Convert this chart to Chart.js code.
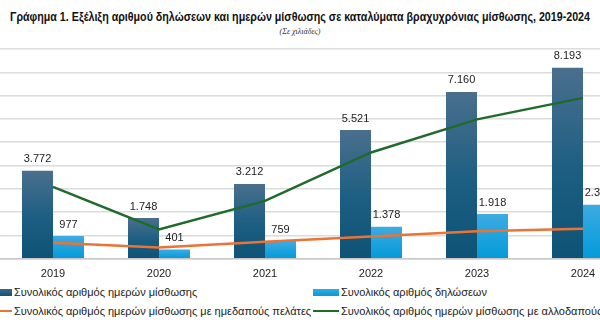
<!DOCTYPE html>
<html>
<head>
<meta charset="utf-8">
<script src="https://cdn.jsdelivr.net/npm/chart.js@4/dist/chart.umd.min.js"></script>
<style>
  html, body { margin: 0; padding: 0; background: #fff; }
  body { width: 600px; height: 332px; overflow: hidden; position: relative; font-family: "Liberation Sans", Arial, sans-serif; color: #222; }
  .title { position: absolute; top: 10px; left: 300px; white-space: nowrap; font-weight: bold; font-size: 12.5px; color: #111; transform-origin: center; transform: translateX(-50%); }
  .subtitle { position: absolute; top: 27px; left: 0; width: 600px; text-align: center; font-family: "Liberation Serif", serif; font-style: italic; font-size: 8px; color: #333; }
  .chart-box { position: absolute; top: 40px; left: 0; width: 636px; height: 242px; }
  .legend { position: absolute; top: 286px; left: 0; width: 700px; font-size: 11px; }
  .legend-item { position: absolute; white-space: nowrap; display: flex; align-items: center; }
  .legend-item .sw { display: inline-block; width: 26px; margin-right: 2px; }
</style>
</head>
<body>
<div class="title" id="title">Γράφημα 1. Εξέλιξη αριθμού δηλώσεων και ημερών μίσθωσης σε καταλύματα βραχυχρόνιας μίσθωσης, 2019-2024</div>
<div class="subtitle">(Σε χιλιάδες)</div>
<div class="chart-box"><canvas id="chart"></canvas></div>
<div class="legend" id="legend"></div>
<script>
// values in thousands
const years = ['2019', '2020', '2021', '2022', '2023', '2024'];
const totalDays = [3772, 1748, 3212, 5521, 7160, 8193];
const totalDeclarations = [977, 401, 759, 1378, 1918, 2317];
const domesticDays = [690, 490, 730, 960, 1180, 1290];
const foreignDays = [3082, 1258, 2482, 4561, 5980, 6903];
const yTicks = [0, 1000, 2000, 3000, 4000, 5000, 6000, 7000, 8000, 9000];

const seriesNames = [
    'Συνολικός αριθμός ημερών μίσθωσης',
    'Συνολικός αριθμός δηλώσεων',
    'Συνολικός αριθμός ημερών μίσθωσης με ημεδαπούς πελάτες',
    'Συνολικός αριθμός ημερών μίσθωσης με αλλοδαπούς πελάτες'
];

// squeeze the title to the narrow width of the original
const titleEl = document.getElementById('title');
const tw = titleEl.getBoundingClientRect().width;
if (tw > 580) titleEl.style.transform = `translateX(-50%) scaleX(${580 / tw})`;

function fmt(v) {
    return String(v).replace(/\B(?=(\d{3})+(?!\d))/g, '.');
}

// gradient per bar, lighter at the top
function barFill(top, bottom, fallback) {
    return (c) => {
        const chart = c.chart;
        if (!chart.chartArea || c.raw === undefined) return fallback;
        const y = chart.scales.y;
        const g = chart.ctx.createLinearGradient(0, y.getPixelForValue(c.raw), 0, y.getPixelForValue(0));
        g.addColorStop(0, top);
        g.addColorStop(0.55, fallback);
        g.addColorStop(1, bottom);
        return g;
    };
}

const valueLabels = {
    id: 'valueLabels',
    afterDatasetsDraw(chart) {
        const ctx = chart.ctx;
        ctx.save();
        ctx.font = '11px "Liberation Sans", Arial, sans-serif';
        ctx.fillStyle = '#222';
        ctx.textAlign = 'center';
        ctx.textBaseline = 'bottom';
        [0, 1].forEach(i => {
            const meta = chart.getDatasetMeta(i);
            meta.data.forEach((bar, j) => {
                ctx.fillText(fmt(chart.data.datasets[i].data[j]), bar.x, bar.y - 6);
            });
        });
        ctx.restore();
    }
};

const colors = ['#165a7f', '#0e9bd8', '#ea7433', '#1f6b2b'];

new Chart(document.getElementById('chart'), {
    data: {
        labels: years,
        datasets: [{
            type: 'bar',
            label: seriesNames[0],
            data: totalDays,
            backgroundColor: barFill('#4a6f8d', '#0e5275', '#1b5e82'),
            order: 2
        }, {
            type: 'bar',
            label: seriesNames[1],
            data: totalDeclarations,
            backgroundColor: barFill('#3fabe2', '#049ad8', '#1ba2dd'),
            order: 2
        }, {
            type: 'line',
            label: seriesNames[2],
            data: domesticDays,
            borderColor: colors[2],
            borderWidth: 2.5,
            pointRadius: 0,
            tension: 0,
            order: 1
        }, {
            type: 'line',
            label: seriesNames[3],
            data: foreignDays,
            borderColor: colors[3],
            borderWidth: 2.5,
            pointRadius: 0,
            tension: 0,
            order: 0
        }]
    },
    options: {
        responsive: true,
        maintainAspectRatio: false,
        animation: false,
        layout: { padding: { top: 9, left: 0, right: 0, bottom: 0 } },
        datasets: {
            bar: { categoryPercentage: 0.585, barPercentage: 1 }
        },
        plugins: {
            legend: { display: false },
            tooltip: { enabled: false }
        },
        scales: {
            x: {
                grid: { display: false },
                border: { display: true, color: '#c8c8c8', width: 1.5 },
                ticks: { color: '#222', font: { size: 11, family: '"Liberation Sans", Arial' }, padding: 1 }
            },
            y: {
                min: 0,
                max: 9000,
                afterBuildTicks: (axis) => { axis.ticks = yTicks.map(v => ({ value: v })); },
                ticks: { display: false },
                grid: { color: '#dcdcdc', lineWidth: 1.5, drawTicks: false },
                border: { display: false }
            }
        }
    },
    plugins: [valueLabels]
});

// legend in two columns like the original
const legend = document.getElementById('legend');
const legendPos = [[-14, 0], [313, 0], [-14, 19], [313, 19]];
const legendOrder = [0, 1, 2, 3];
legendOrder.forEach((k, n) => {
    const item = document.createElement('div');
    item.className = 'legend-item';
    item.style.left = legendPos[n][0] + 'px';
    item.style.top = legendPos[n][1] + 'px';
    const sw = document.createElement('span');
    sw.className = 'sw';
    sw.style.height = k < 2 ? '7px' : '2.5px';
    sw.style.background = k === 0 ? 'linear-gradient(#3d6886, #0f5478)' : k === 1 ? 'linear-gradient(#3aa9e1, #069bd8)' : colors[k];
    const txt = document.createElement('span');
    txt.textContent = seriesNames[k];
    item.appendChild(sw);
    item.appendChild(txt);
    legend.appendChild(item);
});
</script>
</body>
</html>
